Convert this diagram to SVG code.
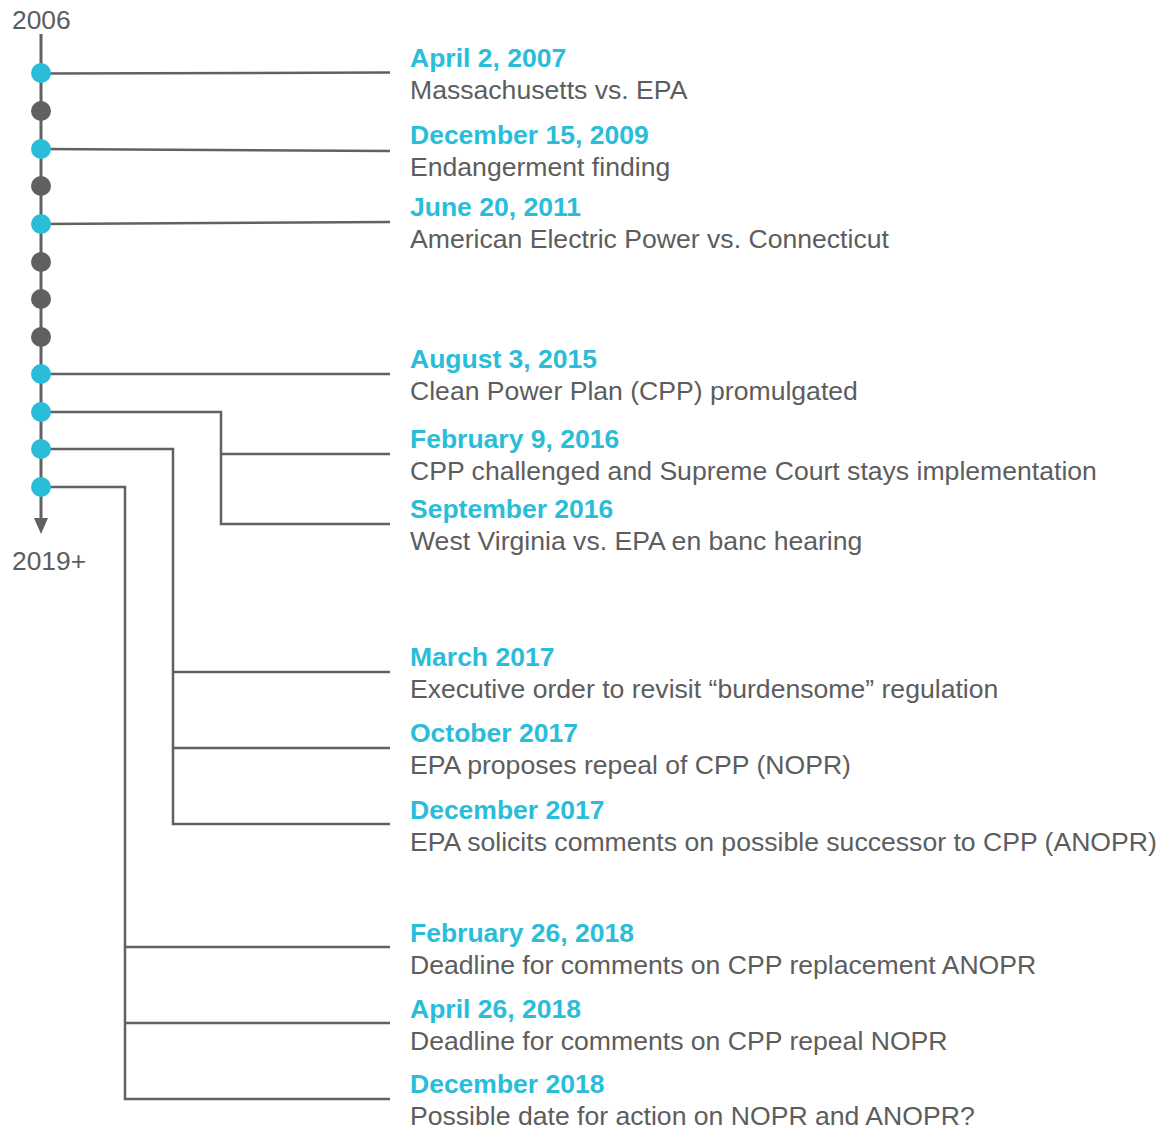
<svg xmlns="http://www.w3.org/2000/svg" width="1161" height="1129" viewBox="0 0 1161 1129">
<defs>
<style>
.t{font-family:"Liberation Sans",Arial,sans-serif;font-size:26.5px;font-weight:bold;fill:#29BDD9}
.d{font-family:"Liberation Sans",Arial,sans-serif;font-size:26.6px;fill:#5d5d5d}
.y{font-family:"Liberation Sans",Arial,sans-serif;font-size:26.4px;fill:#5d5d5d}
.c{fill:none;stroke:#616161;stroke-width:2.5}
.on{fill:#29BDD9}
.off{fill:#5F6062}
</style>
</defs>
<rect width="1161" height="1129" fill="#fff"/>
<g id="axis">
<text class="y" x="12" y="29">2006</text>
<text class="y" x="12" y="570">2019+</text>
<line x1="41" y1="34" x2="41" y2="520" stroke="#616161" stroke-width="3"/>
<polygon points="34,518 48,518 41,534" fill="#5F6062"/>
</g>
<g id="connectors">
<path class="c" d="M41,73.5 L390,72.5"/>
<path class="c" d="M41,149 L390,151"/>
<path class="c" d="M41,224 L390,222"/>
<path class="c" d="M41,374 L390,374"/>
<path class="c" d="M41,412 H221 V524 H390 M221,454 H390"/>
<path class="c" d="M41,449 H173 V824 H390 M173,672 H390 M173,748 H390"/>
<path class="c" d="M41,487 H125 V1099 H390 M125,947 H390 M125,1023 H390"/>
</g>
<g id="dots">
<circle class="on" cx="41" cy="73" r="10"/>
<circle class="off" cx="41" cy="111" r="10"/>
<circle class="on" cx="41" cy="149" r="10"/>
<circle class="off" cx="41" cy="186" r="10"/>
<circle class="on" cx="41" cy="224" r="10"/>
<circle class="off" cx="41" cy="262" r="10"/>
<circle class="off" cx="41" cy="299" r="10"/>
<circle class="off" cx="41" cy="337" r="10"/>
<circle class="on" cx="41" cy="374" r="10"/>
<circle class="on" cx="41" cy="412" r="10"/>
<circle class="on" cx="41" cy="449" r="10"/>
<circle class="on" cx="41" cy="487" r="10"/>
</g>
<g id="e1"><text class="t" x="410" y="67">April 2, 2007</text><text class="d" x="410" y="99">Massachusetts vs. EPA</text></g>
<g id="e2"><text class="t" x="410" y="144">December 15, 2009</text><text class="d" x="410" y="176">Endangerment finding</text></g>
<g id="e3"><text class="t" x="410" y="216">June 20, 2011</text><text class="d" x="410" y="248">American Electric Power vs. Connecticut</text></g>
<g id="e4"><text class="t" x="410" y="368">August 3, 2015</text><text class="d" x="410" y="400">Clean Power Plan (CPP) promulgated</text></g>
<g id="e5"><text class="t" x="410" y="448">February 9, 2016</text><text class="d" x="410" y="480">CPP challenged and Supreme Court stays implementation</text></g>
<g id="e6"><text class="t" x="410" y="518">September 2016</text><text class="d" x="410" y="550">West Virginia vs. EPA en banc hearing</text></g>
<g id="e7"><text class="t" x="410" y="666">March 2017</text><text class="d" x="410" y="698">Executive order to revisit “burdensome” regulation</text></g>
<g id="e8"><text class="t" x="410" y="742">October 2017</text><text class="d" x="410" y="774">EPA proposes repeal of CPP (NOPR)</text></g>
<g id="e9"><text class="t" x="410" y="819">December 2017</text><text class="d" x="410" y="851">EPA solicits comments on possible successor to CPP (ANOPR)</text></g>
<g id="e10"><text class="t" x="410" y="942">February 26, 2018</text><text class="d" x="410" y="974">Deadline for comments on CPP replacement ANOPR</text></g>
<g id="e11"><text class="t" x="410" y="1018">April 26, 2018</text><text class="d" x="410" y="1050">Deadline for comments on CPP repeal NOPR</text></g>
<g id="e12"><text class="t" x="410" y="1093">December 2018</text><text class="d" x="410" y="1125">Possible date for action on NOPR and ANOPR?</text></g>
</svg>
